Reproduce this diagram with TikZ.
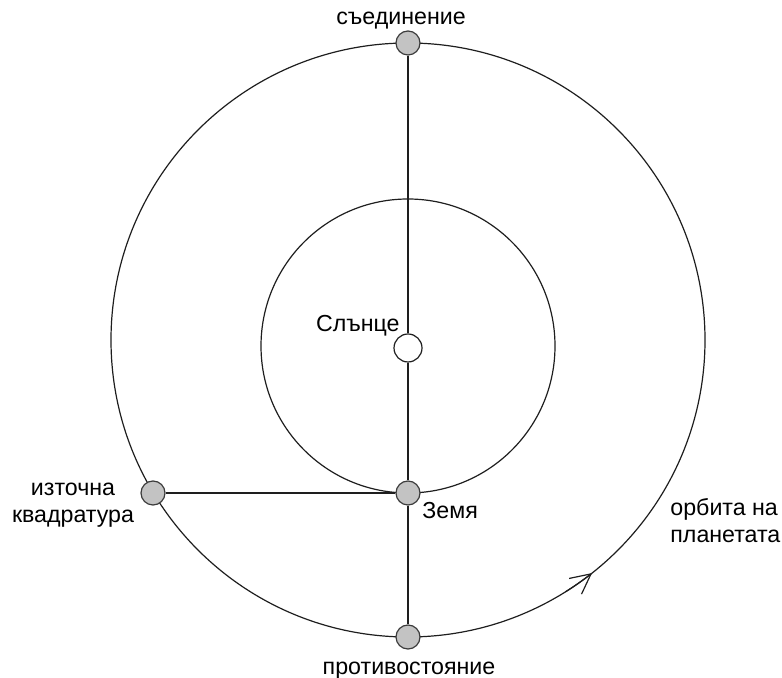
\documentclass[tikz,border=0pt]{standalone}
\usepackage{fontspec}
\setmainfont{Liberation Sans}
\usetikzlibrary{arrows.meta,positioning}
\definecolor{clrLine}{RGB}{30,30,30}
\definecolor{clrBody}{RGB}{195,195,195}
\definecolor{clrRim}{RGB}{60,60,60}
\tikzset{
  orbit/.style={draw=clrLine,line width=0.6bp},
  link/.style={draw=clrLine,line width=0.6bp},
  planet/.style={circle,draw=clrRim,fill=clrBody,line width=0.6bp,
    minimum size=12bp,inner sep=0pt},
  sunbody/.style={circle,draw=clrLine,fill=white,line width=0.6bp,
    minimum size=14bp,inner sep=0pt},
  lbl/.style={font=\fontsize{11.6bp}{13.5bp}\selectfont,inner sep=0pt,text=black},
  motion/.style={-{Straight Barb[length=10bp,width=10bp]},line width=0.6bp,draw=clrLine}
}

\begin{document}
\begin{tikzpicture}[x=0.5bp,y=0.5bp]
  \useasboundingbox (0,0) rectangle (782,678);
  \coordinate (o) at (408,338);
  % orbits
  \draw[orbit] (o) circle[radius=297];
  \draw[orbit] (408,332) circle[radius=147];
  \draw[motion] ([shift={(-58:297)}]o) arc[start angle=-58,end angle=-51.7,radius=297];
  % bodies
  \node[sunbody] (sun) at (408,330) {};
  \node[planet] (conj) at (408,635) {};
  \node[planet] (earth) at (408,185) {};
  \node[planet] (opp) at (408,41) {};
  \node[planet] (quad) at (153,185) {};
  \draw[link] (conj) -- (sun);
  \draw[link] (sun) -- (earth);
  \draw[link] (earth) -- (opp);
  \draw[link] (quad) -- (earth);
  % labels
  \node[lbl,anchor=base] (lconj) at (401,653) {съединение};
  \node[lbl,anchor=base east] (lsun) at (400,346) {Слънце};
  \node[lbl,anchor=base west] (learth) at (422,159) {Земя};
  \node[lbl,anchor=base] (lopp) at (409,3) {противостояние};
  \node[lbl,align=center,anchor=base] (lquad) at (73,155) {източна\\квадратура};
  \node[lbl,align=left,anchor=base west] (lorbit) at (670,135) {орбита на\\планетата};
\end{tikzpicture}
\end{document}
